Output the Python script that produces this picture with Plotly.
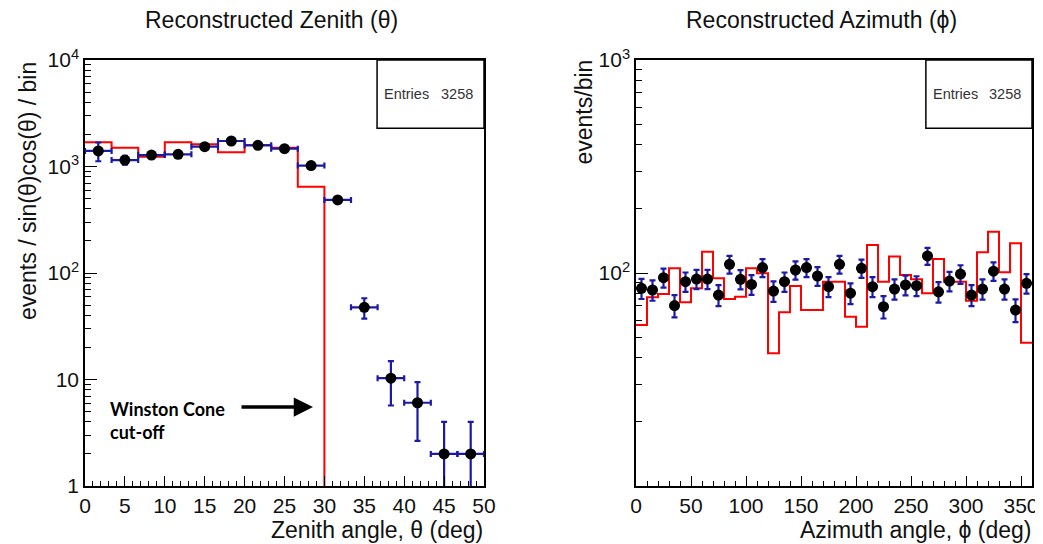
import numpy as np
import plotly.graph_objects as go

# ---------------- data ----------------
# Zenith panel: 15 bins of width 10/3 deg from 0 to 50
zen_edges = list(np.linspace(0, 50, 16))
zen_counts = [1400, 1150, 1280, 1300, 1535, 1735, 1580, 1470, 1020, 485, 47.6, 10.3, 6.05, 2.0, 2.0]
zen_err = [280, 110, 80, 75, 70, 70, 65, 65, 45, 28, 10.3, 4.6, 3.4, 2.0, 2.0]
# Simulation (red) - nonzero only below the 30 deg Winston-cone cut
zen_sim = [1690, 1500, 1235, 1690, 1615, 1360, 1590, 1500, 646]
zen_sim_edges = zen_edges[:10]
empty_level = 1e-3  # stands for zero counts (below the log axis)

# Azimuth panel: 36 bins of 10 deg
azi_edges = list(range(0, 361, 10))
azi_counts = [84.7, 83.2, 95.1, 70.3, 91.0, 93.7, 93.7, 78.8, 109.9, 93.4,
              88.4, 106.0, 82.3, 91.0, 103.3, 106.0, 96.8, 86.3, 109.9, 80.4,
              105.2, 86.3, 69.5, 84.1, 87.9, 87.2, 120.2, 81.6, 91.6, 98.8,
              78.8, 84.1, 102.0, 84.1, 67.0, 89.4]
azi_sim = [57.0, 76.9, 79.6, 105.2, 72.8, 84.7, 125.9, 94.4, 75.5, 77.4,
           105.2, 99.8, 42.0, 65.5, 86.9, 67.0, 67.0, 91.0, 91.0, 62.4,
           56.0, 135.2, 91.0, 119.4, 97.9, 93.4, 80.4, 116.4, 91.0, 91.0,
           74.1, 125.0, 156.3, 100.7, 137.8, 47.1]

entries_zen = 3258
entries_azi = 3258

zen_xticks = list(range(0, 51, 5))
azi_xticks = list(range(0, 351, 50))
zen_yticks = [1, 10, 100, 1000, 10000]
zen_yticktext = ["1", "10", "10<sup>2</sup>", "10<sup>3</sup>", "10<sup>4</sup>"]
azi_yticks = [100, 1000]
azi_yticktext = ["10<sup>2</sup>", "10<sup>3</sup>"]

# ---------------- derived ----------------
zen_centers = [(a + b) / 2 for a, b in zip(zen_edges[:-1], zen_edges[1:])]
zen_half = [(b - a) / 2 for a, b in zip(zen_edges[:-1], zen_edges[1:])]
azi_centers = [(a + b) / 2 for a, b in zip(azi_edges[:-1], azi_edges[1:])]
azi_half = [(b - a) / 2 for a, b in zip(azi_edges[:-1], azi_edges[1:])]
azi_err = [float(np.sqrt(v)) for v in azi_counts]

# step outlines
zen_step_x = zen_sim_edges[:-1] + [zen_sim_edges[-1], zen_sim_edges[-1]]
zen_step_y = zen_sim + [zen_sim[-1], empty_level]
azi_step_x = azi_edges
azi_step_y = azi_sim + [azi_sim[-1]]

RED = "#ff0000"
BLUE = "#1a1aa6"
FONT = "Liberation Sans"

# page body has an 8px margin: size the figure so it fills the window
OFF = 8
W, H = 1043 - OFF, 544 - OFF


def px(x):
    return (x - OFF) / W


def py(y):
    return 1 - (y - OFF) / H


fig = go.Figure()

fig.add_trace(go.Scatter(x=zen_step_x, y=zen_step_y, mode="lines", line_shape="hv",
                         line=dict(color=RED, width=2), xaxis="x", yaxis="y",
                         showlegend=False, hoverinfo="skip"))
fig.add_trace(go.Scatter(x=zen_centers, y=zen_counts, mode="markers",
                         marker=dict(color="black", size=11),
                         error_y=dict(type="data", array=zen_err, color=BLUE, thickness=2.2, width=3),
                         error_x=dict(type="data", array=zen_half, color=BLUE, thickness=2.2, width=3),
                         xaxis="x", yaxis="y", showlegend=False))

fig.add_trace(go.Scatter(x=azi_step_x, y=azi_step_y, mode="lines", line_shape="hv",
                         line=dict(color=RED, width=2), xaxis="x2", yaxis="y2",
                         showlegend=False, hoverinfo="skip"))
fig.add_trace(go.Scatter(x=azi_centers, y=azi_counts, mode="markers",
                         marker=dict(color="black", size=11),
                         error_y=dict(type="data", array=azi_err, color=BLUE, thickness=2.2, width=3),
                         error_x=dict(type="data", array=azi_half, color=BLUE, thickness=2.2, width=0),
                         xaxis="x2", yaxis="y2", showlegend=False))

dom_x1 = [px(85), px(484)]
dom_x2 = [px(636), px(1032)]
dom_y = [py(486), py(60)]


def minor_log(lo, hi):
    vals = []
    for d in range(lo, hi):
        for m in range(2, 10):
            vals.append(m * 10 ** d)
    return vals


axis_common = dict(showline=True, mirror=True, linecolor="black", linewidth=1.5,
                   showgrid=False, zeroline=False, ticks="inside", tickcolor="black",
                   tickwidth=1.2, automargin=False,
                   tickfont=dict(family=FONT, size=21, color="#111"))

fig.update_layout(
    template="none",
    width=W, height=H, margin=dict(l=0, r=0, t=0, b=0, autoexpand=False),
    paper_bgcolor="white", plot_bgcolor="white", showlegend=False,
    xaxis=dict(domain=dom_x1, range=[0, 50], tickvals=zen_xticks, ticklen=10,
               minor=dict(dtick=1, ticks="inside", ticklen=5, tickcolor="black", showgrid=False),
               anchor="y", ticklabelstandoff=0, **axis_common),
    yaxis=dict(domain=dom_y, type="log", range=[0, 4], tickvals=zen_yticks,
               ticktext=zen_yticktext, ticklen=12,
               minor=dict(tickvals=minor_log(0, 4), ticks="inside", ticklen=6, tickcolor="black", showgrid=False),
               anchor="x", **axis_common),
    xaxis2=dict(domain=dom_x2, range=[0, 360], tickvals=azi_xticks, ticklen=10,
                minor=dict(dtick=10, ticks="inside", ticklen=5, tickcolor="black", showgrid=False),
                anchor="y2", ticklabelstandoff=0, **axis_common),
    yaxis2=dict(domain=dom_y, type="log", range=[1, 3], tickvals=azi_yticks,
                ticktext=azi_yticktext, ticklen=12,
                minor=dict(tickvals=minor_log(1, 3), ticks="inside", ticklen=6, tickcolor="black", showgrid=False),
                anchor="x2", **axis_common),
)

# stats boxes
for xr, yr in (("x domain", "y domain"), ("x2 domain", "y2 domain")):
    fig.add_shape(type="rect", xref=xr, yref=yr, x0=0.732, x1=1, y0=0.84, y1=1,
                  line=dict(color="black", width=1.5), fillcolor="white", layer="above")
for (xr, yr), n in zip((("x domain", "y domain"), ("x2 domain", "y2 domain")),
                       (entries_zen, entries_azi)):
    fig.add_annotation(xref=xr, yref=yr, x=0.745, y=0.92, text="Entries", showarrow=False,
                       xanchor="left", yanchor="middle",
                       font=dict(family=FONT, size=14.5, color="#333"))
    fig.add_annotation(xref=xr, yref=yr, x=0.978, y=0.92, text=str(n), showarrow=False,
                       xanchor="right", yanchor="middle",
                       font=dict(family=FONT, size=14.5, color="#333"))

# titles
fig.add_annotation(xref="paper", yref="paper", x=px(271), y=py(20),
                   text="Reconstructed Zenith (θ)", showarrow=False,
                   xanchor="center", yanchor="middle",
                   font=dict(family=FONT, size=23, color="#111"))
fig.add_annotation(xref="paper", yref="paper", x=px(821), y=py(20),
                   text="Reconstructed Azimuth (ϕ)", showarrow=False,
                   xanchor="center", yanchor="middle",
                   font=dict(family=FONT, size=23, color="#111"))

# axis titles
fig.add_annotation(xref="paper", yref="paper", x=px(485), y=py(530),
                   text="Zenith angle, θ (deg)", showarrow=False,
                   xanchor="right", yanchor="middle",
                   font=dict(family=FONT, size=23, color="#111"))
fig.add_annotation(xref="paper", yref="paper", x=px(1034), y=py(530),
                   text="Azimuth angle, ϕ (deg)", showarrow=False,
                   xanchor="right", yanchor="middle",
                   font=dict(family=FONT, size=23, color="#111"))
fig.add_annotation(xref="paper", yref="paper", x=px(28), y=py(60),
                   text="events / sin(θ)cos(θ) / bin", showarrow=False, textangle=-90,
                   xanchor="center", yanchor="top",
                   font=dict(family=FONT, size=23, color="#111"))
fig.add_annotation(xref="paper", yref="paper", x=px(583), y=py(58),
                   text="events/bin", showarrow=False, textangle=-90,
                   xanchor="center", yanchor="top",
                   font=dict(family=FONT, size=23, color="#111"))

# Winston cone label + arrow
fig.add_annotation(xref="paper", yref="paper", x=px(108), y=py(420),
                   text="<b>Winston Cone</b><br><b>cut-off</b>", showarrow=False,
                   xanchor="left", yanchor="middle", align="left",
                   font=dict(family="Lato, Open Sans, sans-serif", size=18, color="black"))
fig.add_annotation(xref="paper", yref="paper", x=px(313), y=py(407),
                   text="", showarrow=True, ax=-73, ay=0, axref="pixel", ayref="pixel",
                   arrowhead=2, arrowsize=1.1, arrowwidth=3.5, arrowcolor="black", standoff=0)

fig.write_html("out.html")
